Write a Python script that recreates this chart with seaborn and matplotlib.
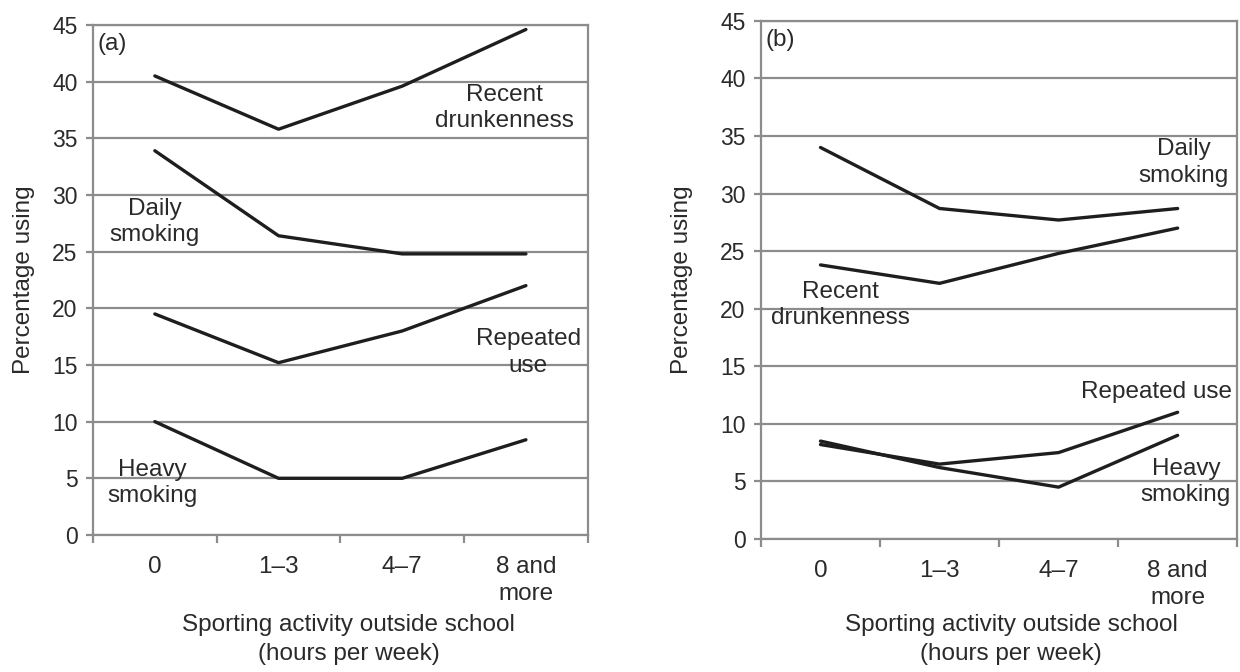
import pandas as pd
import numpy as np
import matplotlib.pyplot as plt
from matplotlib.ticker import FixedLocator
import seaborn as sns

sns.set_style("white")
plt.rcParams['font.family'] = ['Liberation Sans', 'DejaVu Sans']

# Data
hours = ['0', '1–3', '4–7', '8 and\nmore']

# panel (a)
a_drunk = [40.5, 35.8, 39.6, 44.6]
a_daily = [33.9, 26.4, 24.8, 24.8]
a_repeat = [19.5, 15.2, 18.0, 22.0]
a_heavy = [10.0, 5.0, 5.0, 8.4]

# panel (b)
b_daily = [34.0, 28.7, 27.7, 28.7]
b_drunk = [23.8, 22.2, 24.8, 27.0]
b_repeat = [8.2, 6.5, 7.5, 11.0]
b_heavy = [8.5, 6.2, 4.5, 9.0]

LINE = '#1e1e1e'
GRID = '#8c8c8c'
TEXT = '#2a2a2a'


def long_df(series):
    rows = []
    for name, vals in series.items():
        for h, v in zip(hours, vals):
            rows.append({'hours': h, 'pct': v, 'measure': name})
    return pd.DataFrame(rows)


df_a = long_df({'Recent drunkenness': a_drunk, 'Daily smoking': a_daily,
                'Repeated use': a_repeat, 'Heavy smoking': a_heavy})
df_b = long_df({'Daily smoking': b_daily, 'Recent drunkenness': b_drunk,
                'Repeated use': b_repeat, 'Heavy smoking': b_heavy})

fig = plt.figure(figsize=(12.4, 6.72), dpi=100)
ax_a = fig.add_axes([0.075, 0.2039, 0.399, 0.759])
ax_b = fig.add_axes([0.6137, 0.198, 0.384, 0.771])


def style_axis(ax, df, tag, ylab_x, xlab_y, xlab_x):
    sns.lineplot(data=df, x='hours', y='pct', hue='measure', palette=[LINE] * 4,
                 sort=False, legend=False, lw=2.4, ax=ax)
    ax.set_xlim(-0.5, 3.5)
    ax.set_ylim(0, 45)
    ax.set_yticks(np.arange(0, 46, 5))
    ax.grid(axis='y', color=GRID, lw=1.6)
    ax.grid(axis='x', visible=False)
    for sp in ax.spines.values():
        sp.set_color(GRID)
        sp.set_linewidth(1.6)
    ax.xaxis.set_minor_locator(FixedLocator([-0.5, 0.5, 1.5, 2.5, 3.5]))
    ax.tick_params(axis='x', which='major', length=0, pad=15, labelsize=17.5,
                   labelcolor=TEXT)
    ax.tick_params(axis='x', which='minor', length=6, width=1.6, color=GRID,
                   direction='out', bottom=True)
    ax.tick_params(axis='y', length=5, width=1.6, color=GRID, direction='out',
                   left=True, pad=6, labelsize=16.5, labelcolor=TEXT)
    for lab in ax.get_xticklabels():
        lab.set_linespacing(1.3)
    ax.set_ylabel('Percentage using', fontsize=17.5, color=TEXT)
    ax.yaxis.set_label_coords(ylab_x, 0.5)
    ax.set_xlabel('Sporting activity outside school\n(hours per week)',
                  fontsize=17.5, color=TEXT, linespacing=1.4)
    ax.xaxis.set_label_coords(xlab_x, xlab_y)
    ax.text(-0.46, 43.3, tag, fontsize=17.5, color=TEXT, ha='left', va='center')


style_axis(ax_a, df_a, '(a)', -0.118, -0.155, 0.517)
style_axis(ax_b, df_b, '(b)', -0.143, -0.145, 0.525)

kw = dict(fontsize=17.5, color=TEXT, ha='center', va='center', linespacing=1.25)

# panel (a) labels
ax_a.text(2.83, 37.7, 'Recent\ndrunkenness', **kw)
ax_a.text(0.0, 27.6, 'Daily\nsmoking', **kw)
ax_a.text(3.02, 16.1, 'Repeated\nuse', **kw)
ax_a.text(-0.02, 4.6, 'Heavy\nsmoking', **kw)

# panel (b) labels
ax_b.text(3.05, 32.7, 'Daily\nsmoking', **kw)
ax_b.text(0.17, 20.3, 'Recent\ndrunkenness', **kw)
ax_b.text(2.82, 12.8, 'Repeated use', **kw)
ax_b.text(3.07, 4.95, 'Heavy\nsmoking', **kw)

plt.savefig('out.png', dpi=100)
plt.close()
